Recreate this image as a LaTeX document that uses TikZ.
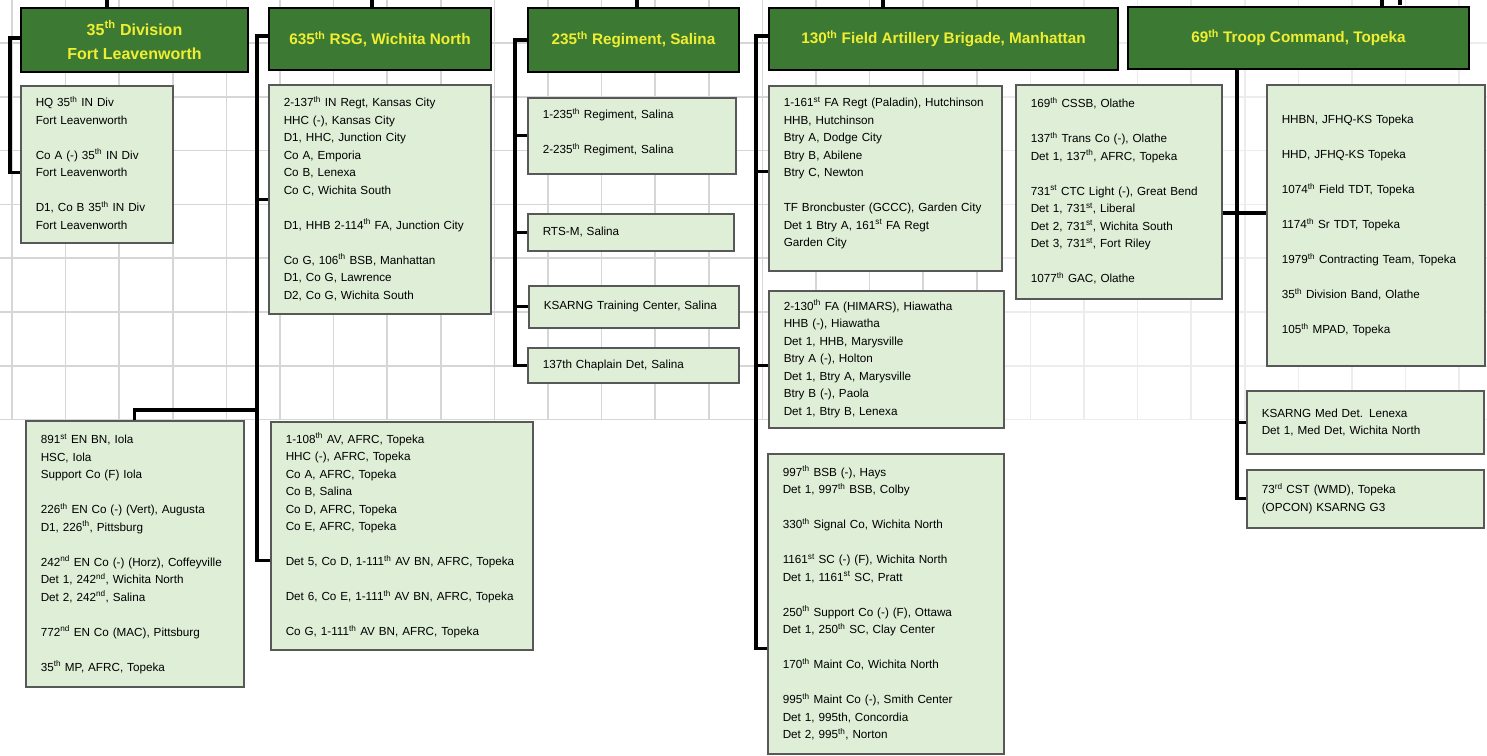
\documentclass[tikz,border=0pt]{standalone}
\usepackage{fontspec}
\setmainfont{Liberation Sans}
\definecolor{hqgreen}{RGB}{60,122,52}
\definecolor{hqtext}{RGB}{240,238,50}
\definecolor{unitfill}{RGB}{223,238,215}
\definecolor{unitline}{RGB}{88,88,88}
\definecolor{gridline}{RGB}{214,214,214}
\definecolor{gridfaint}{RGB}{236,236,236}
\newcommand\ordsup[1]{\textsuperscript{#1}}
\newcommand\rows[1]{\begin{tabular}{@{}l@{}}#1\end{tabular}}

\begin{document}
\begin{tikzpicture}[x=1pt,y=-1pt,
  hq/.style={draw=black,line width=2pt,fill=hqgreen,text=hqtext,align=center,
    font=\fontsize{15.3}{23}\selectfont\bfseries,anchor=north west,inner sep=0pt},
  unit/.style={draw=unitline,line width=1.5pt,fill=unitfill,align=left,
    font=\fontsize{11.7}{17.5}\selectfont,anchor=north west,inner xsep=15pt,inner ysep=0pt},
  link/.style={line width=3.2pt},
  grid/.style={draw=gridline,line width=1.5pt}]

  \useasboundingbox (0,0) rectangle (1487,755);

  % background grid
  \foreach \k in {0,...,18}
    \draw[grid] (12+53.6*\k,0) -- (12+53.6*\k,420);
  \foreach \k in {19,...,27}
    \draw[grid,draw=gridfaint] (12+53.6*\k,0) -- (12+53.6*\k,420);
  \foreach \k in {0,...,7} {
    \draw[grid] (0,43+53.8*\k) -- (1000,43+53.8*\k);
    \draw[grid,draw=gridfaint] (1000,43+53.8*\k) -- (1487,43+53.8*\k);
  }

  % headquarters
  \node[hq,minimum width=227pt,minimum height=64pt,font=\fontsize{16}{24}\selectfont\bfseries] (div) at (20,7) {35\ordsup{th} Division\\Fort Leavenworth};
  \node[hq,minimum width=222pt,minimum height=62pt] (rsg) at (268,7) {635\ordsup{th} RSG, Wichita North};
  \node[hq,minimum width=211pt,minimum height=64pt] (reg) at (527,7) {235\ordsup{th} Regiment, Salina};
  \node[hq,minimum width=349pt,minimum height=62pt] (fab) at (768,7) {130\ordsup{th} Field Artillery Brigade, Manhattan};
  \node[hq,minimum width=341pt,minimum height=62pt] (tc) at (1127,6) {69\ordsup{th} Troop Command, Topeka};

  % 35th Division
  \node[unit,minimum width=152pt,minimum height=157pt,text width=122pt] (diva) at (20,85)
    {\rows{HQ 35\ordsup{th} IN Div\\Fort Leavenworth\\ \\Co A (-) 35\ordsup{th} IN Div\\Fort Leavenworth\\ \\
      D1, Co B 35\ordsup{th} IN Div\\Fort Leavenworth}};

  % 635th RSG
  \node[unit,minimum width=222pt,minimum height=229pt,text width=192pt] (rsga) at (268,84)
    {\rows{2-137\ordsup{th} IN Regt, Kansas City\\HHC (-), Kansas City\\D1, HHC, Junction City\\Co A, Emporia\\
      Co B, Lenexa\\Co C, Wichita South\\ \\D1, HHB 2-114\ordsup{th} FA, Junction City\\ \\
      Co G, 106\ordsup{th} BSB, Manhattan\\D1, Co G, Lawrence\\D2, Co G, Wichita South}};
  \node[unit,minimum width=218pt,minimum height=266pt,text width=188pt] (rsgb) at (25,420)
    {\rows{891\ordsup{st} EN BN, Iola\\HSC, Iola\\Support Co (F) Iola\\ \\
      226\ordsup{th} EN Co (-) (Vert), Augusta\\D1, 226\ordsup{th}, Pittsburg\\ \\
      242\ordsup{nd} EN Co (-) (Horz), Coffeyville\\Det 1, 242\ordsup{nd}, Wichita North\\Det 2, 242\ordsup{nd}, Salina\\ \\
      772\ordsup{nd} EN Co (MAC), Pittsburg\\ \\35\ordsup{th} MP, AFRC, Topeka}};
  \node[unit,minimum width=262pt,minimum height=228pt,text width=232pt] (rsgc) at (270,421)
    {\rows{1-108\ordsup{th} AV, AFRC, Topeka\\HHC (-), AFRC, Topeka\\Co A, AFRC, Topeka\\Co B, Salina\\
      Co D, AFRC, Topeka\\Co E, AFRC, Topeka\\ \\Det 5, Co D, 1-111\ordsup{th} AV BN, AFRC, Topeka\\ \\
      Det 6, Co E, 1-111\ordsup{th} AV BN, AFRC, Topeka\\ \\Co G, 1-111\ordsup{th} AV BN, AFRC, Topeka}};

  % 235th Regiment
  \node[unit,minimum width=208pt,minimum height=76pt,text width=178pt] (rega) at (527,97)
    {\rows{1-235\ordsup{th} Regiment, Salina\\ \\2-235\ordsup{th} Regiment, Salina\\[6pt]}};
  \node[unit,minimum width=206pt,minimum height=37pt,text width=176pt] (regb) at (527,213) {RTS-M, Salina};
  \node[unit,minimum width=210pt,minimum height=42pt,text width=180pt] (regc) at (528,285) {KSARNG Training Center, Salina};
  \node[unit,minimum width=211pt,minimum height=35pt,text width=181pt] (regd) at (527,347) {137th Chaplain Det, Salina};

  % 130th FA Brigade
  \node[unit,minimum width=233pt,minimum height=185pt,text width=203pt] (faba) at (768,85)
    {\rows{1-161\ordsup{st} FA Regt (Paladin), Hutchinson\\HHB, Hutchinson\\Btry A, Dodge City\\Btry B, Abilene\\
      Btry C, Newton\\ \\TF Broncbuster (GCCC), Garden City\\Det 1 Btry A, 161\ordsup{st} FA Regt\\Garden City\\[10pt]}};
  \node[unit,minimum width=235pt,minimum height=137pt,text width=205pt] (fabb) at (768,290)
    {\rows{2-130\ordsup{th} FA (HIMARS), Hiawatha\\HHB (-), Hiawatha\\Det 1, HHB, Marysville\\Btry A (-), Holton\\
      Det 1, Btry A, Marysville\\Btry B (-), Paola\\Det 1, Btry B, Lenexa}};
  \node[unit,minimum width=236pt,minimum height=300pt,text width=206pt] (fabc) at (767,453)
    {\rows{997\ordsup{th} BSB (-), Hays\\Det 1, 997\ordsup{th} BSB, Colby\\ \\330\ordsup{th} Signal Co, Wichita North\\ \\
      1161\ordsup{st} SC (-) (F), Wichita North\\Det 1, 1161\ordsup{st} SC, Pratt\\ \\
      250\ordsup{th} Support Co (-) (F), Ottawa\\Det 1, 250\ordsup{th} SC, Clay Center\\ \\
      170\ordsup{th} Maint Co, Wichita North\\ \\995\ordsup{th} Maint Co (-), Smith Center\\
      Det 1, 995th, Concordia\\Det 2, 995\ordsup{th}, Norton}};
  \node[unit,minimum width=206pt,minimum height=214pt,text width=176pt] (fabd) at (1015,84)
    {\rows{169\ordsup{th} CSSB, Olathe\\ \\137\ordsup{th} Trans Co (-), Olathe\\Det 1, 137\ordsup{th}, AFRC, Topeka\\ \\
      731\ordsup{st} CTC Light (-), Great Bend\\Det 1, 731\ordsup{st}, Liberal\\Det 2, 731\ordsup{st}, Wichita South\\
      Det 3, 731\ordsup{st}, Fort Riley\\ \\1077\ordsup{th} GAC, Olathe}};

  % 69th Troop Command
  \node[unit,minimum width=218pt,minimum height=281pt,text width=188pt] (tca) at (1266,84)
    {\rows{HHBN, JFHQ-KS Topeka\\ \\HHD, JFHQ-KS Topeka\\ \\1074\ordsup{th} Field TDT, Topeka\\ \\
      1174\ordsup{th} Sr TDT, Topeka\\ \\1979\ordsup{th} Contracting Team, Topeka\\ \\
      35\ordsup{th} Division Band, Olathe\\ \\105\ordsup{th} MPAD, Topeka}};
  \node[unit,minimum width=237pt,minimum height=63pt,text width=207pt] (tcb) at (1246,390)
    {\rows{KSARNG Med Det. Lenexa\\Det 1, Med Det, Wichita North}};
  \node[unit,minimum width=237pt,minimum height=58pt,text width=207pt] (tcc) at (1246,469)
    {\rows{73\ordsup{rd} CST (WMD), Topeka\\(OPCON) KSARNG G3}};

  % lines up to the state headquarters
  \foreach \x/\n in {107/div,372/rsg,637/reg,883/fab,1382/tc} {
    \coordinate (up) at (\x,0);
    \draw[link] (up) -- (up |- \n.north);
  }
  \draw[link] (1400,0) -- (1400,5);

  % spines
  \coordinate (s1) at (10,0);
  \coordinate (s2) at (257,0);
  \coordinate (s3) at (515,0);
  \coordinate (s4) at (756,0);
  \coordinate (s5) at (1237,0);

  \coordinate (e1) at ([yshift=-8pt]diva.west);
  \draw[link] ([yshift=2pt]div.west) -| (s1 |- e1) -- (e1);

  \coordinate (e2) at ([yshift=-25pt]rsgc.west);
  \coordinate (j2) at (257,410);
  \draw[link] ([yshift=3pt]rsg.west) -| (s2 |- e2) -- (e2);
  \draw[link] (s2 |- rsga.west) -- (rsga.west);
  \draw[link] (rsgb.north) |- (j2);

  \draw[link] (reg.west) -| (s3 |- regd.west) -- (regd.west);
  \foreach \n in {rega,regb,regc}
    \draw[link] (s3 |- \n.west) -- (\n.west);

  \coordinate (e4) at ([yshift=-45pt]fabc.west);
  \coordinate (a4) at ([yshift=7pt]faba.west);
  \coordinate (b4) at ([yshift=-6pt]fabb.west);
  \draw[link] ([yshift=3pt]fab.west) -| (s4 |- e4) -- (e4);
  \draw[link] (s4 |- a4) -- (a4);
  \draw[link] (s4 |- b4) -- (b4);

  \coordinate (k5) at (0,213);
  \draw[link] (s5 |- tc.south) -- (s5 |- tcc.west) -- (tcc.west);
  \draw[link] (s5 |- tcb.west) -- (tcb.west);
  \draw[link] (fabd.east |- k5) -- (tca.west |- k5);

\end{tikzpicture}
\end{document}
